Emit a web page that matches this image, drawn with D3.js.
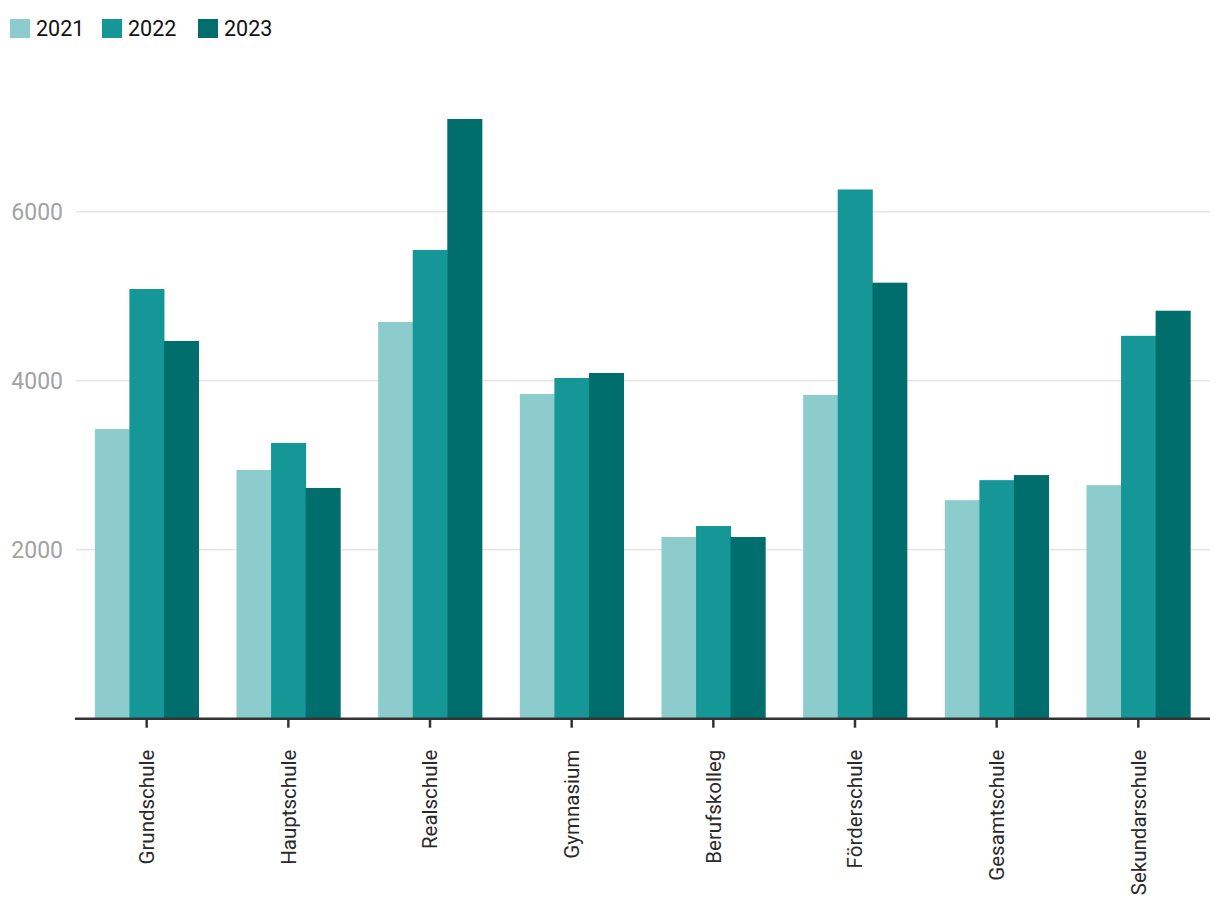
<!DOCTYPE html>
<html><head><meta charset="utf-8">
<script src="https://cdn.jsdelivr.net/npm/d3@7"></script>
<style>
html,body{margin:0;padding:0;background:#fff;}
text{font-family:Roboto,"Open Sans",sans-serif;}
</style></head>
<body>
<svg id="c" width="1220" height="912"></svg>
<script>
const categories = ["Grundschule","Hauptschule","Realschule","Gymnasium","Berufskolleg","Förderschule","Gesamtschule","Sekundarschule"];
const years = ["2021","2022","2023"];
const values2021 = [3428, 2943, 4695, 3843, 2150, 3832, 2586, 2764];
const values2022 = [5085, 3263, 5547, 4032, 2280, 6263, 2823, 4531];
const values2023 = [4470, 2730, 7097, 4091, 2150, 5160, 2883, 4828];
const yTicks = [2000, 4000, 6000];
const colors = ["#8dcccc", "#159697", "#016e6e"];

const series = [values2021, values2022, values2023];
const data = categories.map((c, i) => ({cat: c, vals: years.map((y, j) => ({year: y, v: series[j][i], j}))}));

const svg = d3.select("#c");
const x0 = d3.scaleBand().domain(categories).range([75, 1210]).paddingInner(0.268).paddingOuter(0.14);
const x1 = d3.scaleBand().domain(years).range([0, x0.bandwidth()]);
const y = d3.scaleLinear().domain([0, d3.max(values2023)]).range([718.7, 119]);

// gridlines
svg.append("g").selectAll("line").data(yTicks).join("line")
  .attr("x1", 76).attr("x2", 1210)
  .attr("y1", d => y(d)).attr("y2", d => y(d))
  .attr("stroke", "#e6e6e6").attr("stroke-width", 1.5);

// y labels
svg.append("g").selectAll("text").data(yTicks).join("text")
  .attr("x", 63).attr("y", d => y(d)).attr("dy", "0.35em")
  .attr("text-anchor", "end").attr("fill", "#a3a3a3")
  .attr("font-size", 23).text(d => d);

// bars
const g = svg.append("g").selectAll("g").data(data).join("g")
  .attr("transform", d => `translate(${x0(d.cat)},0)`);
g.selectAll("rect").data(d => d.vals).join("rect")
  .attr("x", d => x1(d.year)).attr("width", x1.bandwidth() + 0.5)
  .attr("y", d => y(d.v)).attr("height", d => y(0) - y(d.v))
  .attr("fill", d => colors[d.j]);

// x axis
const xAxis = svg.append("g").attr("transform", `translate(0,${y(0)})`)
  .call(d3.axisBottom(x0).tickSize(9).tickPadding(12).tickSizeOuter(0));
xAxis.select(".domain").attr("stroke", "#333").attr("stroke-width", 2.5)
  .attr("d", "M75,0H1210");
xAxis.selectAll(".tick line").attr("stroke", "#333").attr("stroke-width", 2.5);
xAxis.selectAll(".tick text")
  .attr("font-size", 20.5).attr("fill", "#2a2a2a")
  .attr("font-family", "Roboto, sans-serif")
  .attr("transform", "rotate(-90)")
  .attr("text-anchor", "end").attr("x", -31).attr("y", 0).attr("dy", "0.35em");

// legend
const leg = svg.append("g");
const legX = [10, 102, 198];
years.forEach((yr, j) => {
  leg.append("rect").attr("x", legX[j]).attr("y", 19).attr("width", 20).attr("height", 19).attr("fill", colors[j]);
  leg.append("text").attr("x", legX[j] + 26).attr("y", 28.5).attr("dy", "0.35em")
    .attr("font-size", 21.5).attr("fill", "#111").text(yr);
});
</script>
</body></html>
